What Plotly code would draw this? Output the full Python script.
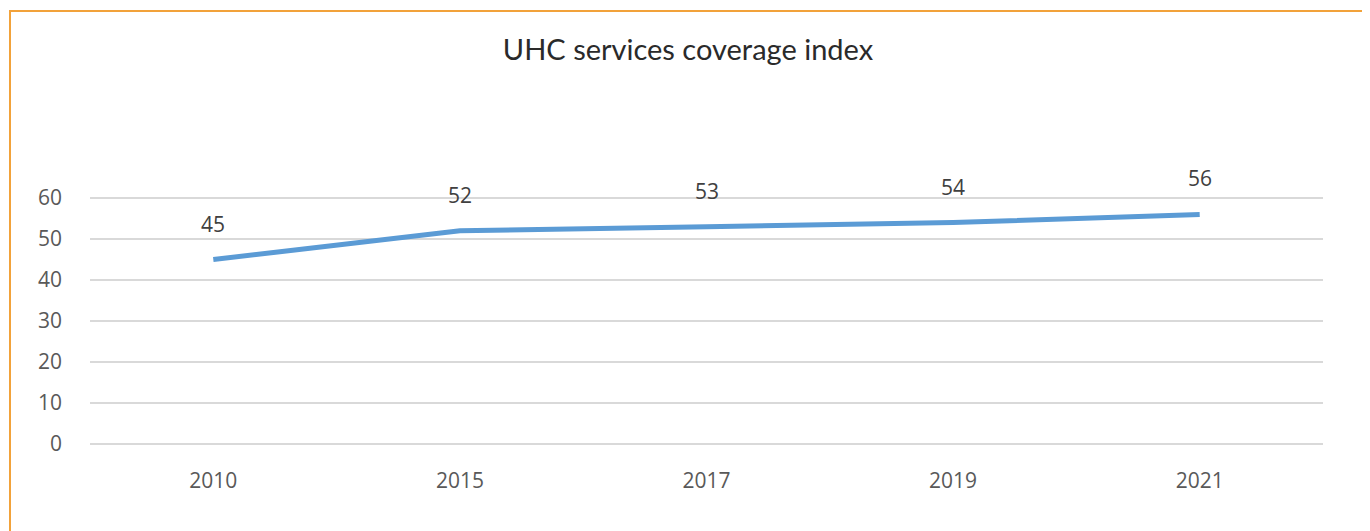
import plotly.graph_objects as go

years = ["2010", "2015", "2017", "2019", "2021"]
coverage = [45, 52, 53, 54, 56]
y_ticks = [0, 10, 20, 30, 40, 50, 60]
title_text = "UHC services coverage index"

# page body has an 8px default margin; size the figure to fit the 1370x531 window
OFF = 8
W, H = 1370 - OFF, 531 - OFF
L, R, T, B = 90 - OFF, 1323 - OFF, 197 - OFF, 445 - OFF

fig = go.Figure()
fig.add_trace(go.Scatter(
    x=years, y=coverage, mode="lines",
    line=dict(color="#5B9BD5", width=5),
    hoverinfo="x+y", showlegend=False,
))

for i, v in enumerate(coverage):
    fig.add_annotation(x=i, y=v, xref="x", yref="y", text=str(v), showarrow=False,
                       yshift=36, font=dict(family="Open Sans, DejaVu Sans", size=21, color="#404040"))

pw, ph = R - L, B - T
fig.add_shape(type="rect", xref="paper", yref="paper",
              x0=(10 - OFF - L) / pw, x1=(1368 - OFF - L) / pw,
              y0=(B - 540) / ph, y1=(B - (11 - OFF)) / ph,
              line=dict(color="#F2A23A", width=2), fillcolor="rgba(0,0,0,0)", layer="below")

fig.update_layout(
    width=W, height=H,
    margin=dict(l=L, r=W - R, t=T, b=H - B, pad=0),
    paper_bgcolor="white", plot_bgcolor="white",
    title=dict(text=title_text, x=(688 - OFF) / W, xanchor="center", y=1 - (50 - OFF) / H, yanchor="middle",
               font=dict(family="Lato, Open Sans, sans-serif", size=29, color="#2A2A2A")),
    xaxis=dict(type="category", range=[-0.5, 4.5], showgrid=False, zeroline=False,
               showline=False, ticks="", tickfont=dict(family="Open Sans, DejaVu Sans", size=21, color="#595959"),
               ticklabelstandoff=21),
    yaxis=dict(range=[-0.25, 60.25], tickvals=y_ticks, showgrid=True, gridcolor="#D9D9D9", gridwidth=1.5,
               zeroline=False, showline=False, ticks="",
               tickfont=dict(family="Open Sans, DejaVu Sans", size=21, color="#595959"),
               ticklabelstandoff=27),
)

fig.write_html("out.html")
